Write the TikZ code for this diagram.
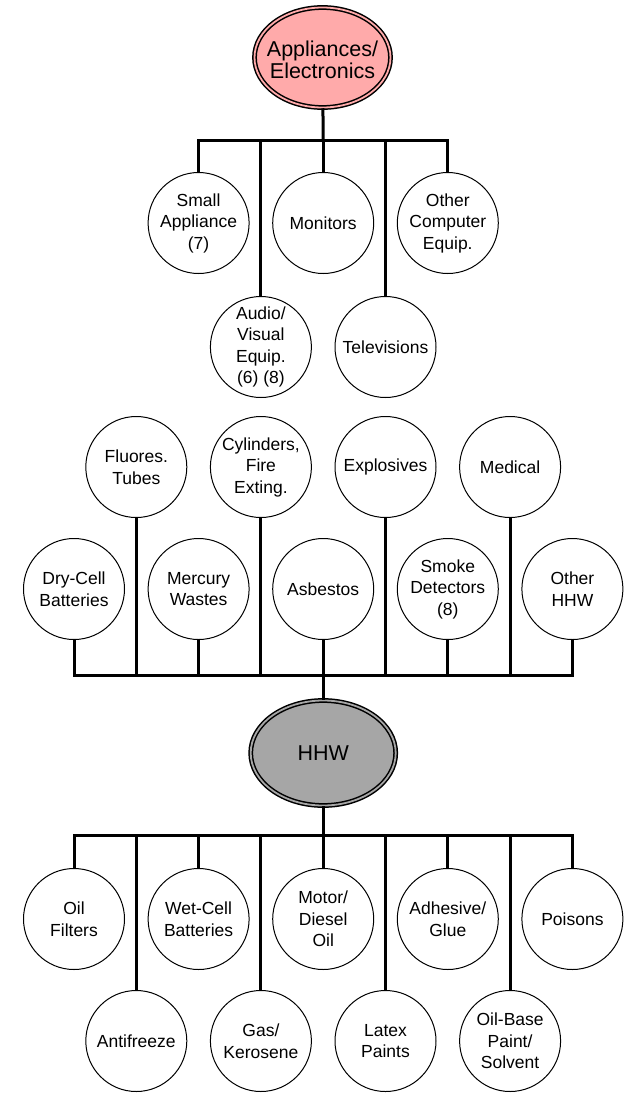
\documentclass[tikz,border=0pt]{standalone}
\usepackage{fontspec}
\setmainfont{Liberation Sans}
\usetikzlibrary{shapes.geometric}
\definecolor{appfill}{RGB}{255,170,170}
\definecolor{hhwfill}{RGB}{166,166,166}
\tikzset{
  item/.style={circle, draw, line width=1pt, fill=white, minimum size=101pt,
    inner sep=0pt, align=center, font=\fontsize{17.5}{21.5}\selectfont},
  group/.style={ellipse, draw, line width=1.5pt, double distance=1.8pt, inner sep=0pt},
  grouptext/.style={align=center, font=\fontsize{21.5}{22}\selectfont},
  wire/.style={line width=3pt},
  bar/.style={line width=3pt, line cap=rect}
}
\begin{document}
\begin{tikzpicture}[x=1pt,y=-1pt]
  \useasboundingbox (0,0) rectangle (629,1093);
  \node[group, fill=appfill, double=appfill, minimum width=136pt, minimum height=100pt] (app) at (322.5,57.5) {};
  \node[grouptext] (apptext) at (322.5,60) {Appliances/\\Electronics};
  \node[group, fill=hhwfill, double=hhwfill, minimum width=145pt, minimum height=105pt] (hhw) at (323.2,753) {};
  \node[grouptext] (hhwtext) at (hhw) {HHW};

  \coordinate (topbar) at (323.2,140);
  \coordinate (midbar) at (323.2,675);
  \coordinate (lowbar) at (323.2,835);

  \node[item] (small) at (198.6,223) {Small\\Appliance\\(7)};
  \node[item] (monitors) at (323.2,223) {Monitors};
  \node[item] (othercomp) at (447.8,223) {Other\\Computer\\Equip.};
  \node[item] (audio) at (260.9,347) {Audio/\\Visual\\Equip.\\(6) (8)};
  \node[item] (tv) at (385.5,347) {Televisions};

  \node[item] (fluores) at (136.3,467) {Fluores.\\Tubes};
  \node[item] (cylinders) at (260.9,467) {Cylinders,\\Fire\\Exting.};
  \node[item] (explosives) at (385.5,467) {Explosives};
  \node[item] (medical) at (510.1,467) {Medical};
  \node[item] (drycell) at (74,589) {Dry-Cell\\Batteries};
  \node[item] (mercury) at (198.6,589) {Mercury\\Wastes};
  \node[item] (asbestos) at (323.2,589) {Asbestos};
  \node[item] (smoke) at (447.8,589) {Smoke\\Detectors\\(8)};
  \node[item] (otherhhw) at (572.4,589) {Other\\HHW};

  \node[item] (oilfilters) at (74,919) {Oil\\Filters};
  \node[item] (wetcell) at (198.6,919) {Wet-Cell\\Batteries};
  \node[item] (motor) at (323.2,919) {Motor/\\Diesel\\Oil};
  \node[item] (adhesive) at (447.8,919) {Adhesive/\\Glue};
  \node[item] (poisons) at (572.4,919) {Poisons};
  \node[item] (antifreeze) at (136.3,1041) {Antifreeze};
  \node[item] (gas) at (260.9,1041) {Gas/\\Kerosene};
  \node[item] (latex) at (385.5,1041) {Latex\\Paints};
  \node[item] (oilbase) at (510.1,1041) {Oil-Base\\Paint/\\Solvent};

  \begin{scope}[wire]
    \draw (app) -- (topbar);
    \draw[bar] (small |- topbar) -- (othercomp |- topbar);
    \draw (small) -- (small |- topbar);
    \draw (audio) -- (audio |- topbar);
    \draw (monitors) -- (monitors |- topbar);
    \draw (tv) -- (tv |- topbar);
    \draw (othercomp) -- (othercomp |- topbar);

    \draw (hhw) -- (midbar);
    \draw[bar] (drycell |- midbar) -- (otherhhw |- midbar);
    \draw (drycell) -- (drycell |- midbar);
    \draw (fluores) -- (fluores |- midbar);
    \draw (mercury) -- (mercury |- midbar);
    \draw (cylinders) -- (cylinders |- midbar);
    \draw (asbestos) -- (asbestos |- midbar);
    \draw (explosives) -- (explosives |- midbar);
    \draw (smoke) -- (smoke |- midbar);
    \draw (medical) -- (medical |- midbar);
    \draw (otherhhw) -- (otherhhw |- midbar);

    \draw (hhw) -- (lowbar);
    \draw[bar] (oilfilters |- lowbar) -- (poisons |- lowbar);
    \draw (oilfilters) -- (oilfilters |- lowbar);
    \draw (antifreeze) -- (antifreeze |- lowbar);
    \draw (wetcell) -- (wetcell |- lowbar);
    \draw (gas) -- (gas |- lowbar);
    \draw (motor) -- (motor |- lowbar);
    \draw (latex) -- (latex |- lowbar);
    \draw (adhesive) -- (adhesive |- lowbar);
    \draw (oilbase) -- (oilbase |- lowbar);
    \draw (poisons) -- (poisons |- lowbar);
  \end{scope}
\end{tikzpicture}
\end{document}
